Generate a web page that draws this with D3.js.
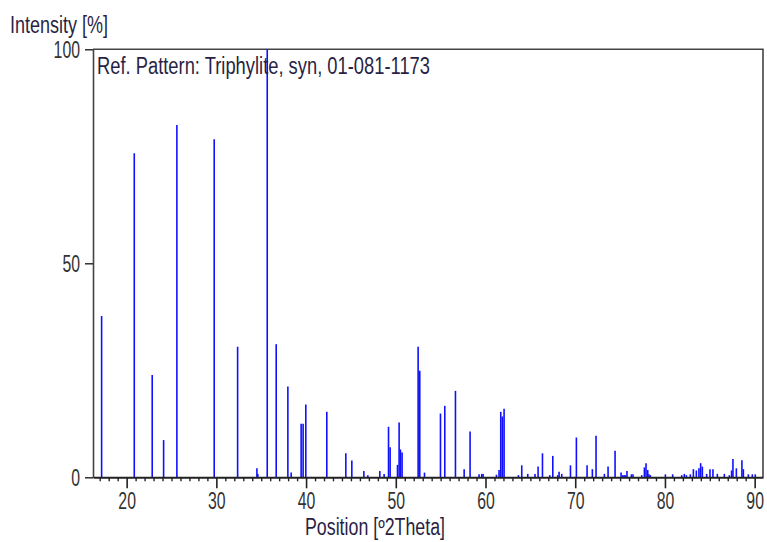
<!DOCTYPE html>
<html>
<head>
<meta charset="utf-8">
<script src="https://cdn.jsdelivr.net/npm/d3@7"></script>
<style>
  body { margin: 0; background: #fff; }
  text { font-family: "Liberation Sans", Arial, sans-serif; }
</style>
</head>
<body>
<svg id="chart" width="767" height="542"></svg>
<script>
// reference pattern peaks: position (2theta) and relative intensity (%)
var positions = [17.21, 20.85, 22.85, 24.12, 25.60, 29.76, 32.37, 34.52, 34.62, 35.67, 36.67,
  37.97, 38.34, 39.45, 39.67, 39.97, 42.31, 44.43, 45.10, 46.44, 46.88, 48.22, 48.70,
  49.19, 49.37, 50.19, 50.37, 50.52, 50.70, 52.49, 52.67, 53.20, 54.98, 55.46, 56.65,
  57.62, 58.28, 59.28, 59.58, 59.73, 61.22, 61.51, 61.70, 61.88, 62.07, 63.67, 64.04,
  64.71, 65.52, 65.86, 66.35, 67.16, 67.50, 68.05, 68.20, 68.50, 69.47, 70.13, 71.32,
  71.91, 72.32, 73.25, 73.66, 74.44, 75.11, 75.30, 75.45, 75.60, 75.77, 76.26, 76.44,
  77.41, 77.71, 77.89, 78.08, 78.22, 78.38, 80.05, 80.86, 81.87, 82.16, 82.39, 82.83,
  83.17, 83.50, 83.79, 83.98, 84.17, 84.65, 85.02, 85.35, 85.84, 86.62, 87.18, 87.43,
  87.58, 87.96, 88.58, 88.74, 89.30, 89.74, 90.07];
var intensities = [37.7, 75.7, 23.9, 8.7, 82.3, 79.0, 30.5, 2.1, 0.8, 100, 31.1,
  21.2, 1.1, 12.5, 12.5, 17.0, 15.3, 5.6, 3.9, 1.5, 0.5, 1.5, 0.8,
  11.8, 7.0, 2.9, 12.8, 6.5, 5.8, 30.5, 24.9, 1.1, 14.9, 16.7, 20.2,
  1.9, 10.7, 0.7, 0.8, 0.8, 0.6, 1.7, 15.3, 14.2, 16.0, 0.5, 2.8,
  0.8, 0.8, 2.5, 5.6, 0.5, 5.0, 0.5, 1.3, 0.8, 2.8, 9.3, 2.8,
  1.9, 9.7, 0.8, 2.5, 6.2, 1.1, 0.5, 0.5, 0.5, 1.5, 0.7, 0.7,
  0.5, 2.3, 3.3, 1.7, 0.7, 0.5, 0.7, 0.7, 0.5, 0.8, 0.5, 0.7,
  1.9, 1.6, 2.1, 3.3, 2.5, 0.8, 1.9, 1.9, 0.8, 0.8, 0.5, 1.6,
  4.3, 2.1, 4.0, 1.9, 0.7, 0.7, 0.7];
var xMajorTicks = [20, 30, 40, 50, 60, 70, 80, 90];
var yTicks = [0, 50, 100];
var patternLabel = "Ref. Pattern: Triphylite, syn, 01-081-1173";

var svg = d3.select("#chart");
// plot box (renamed from top/left: window.top is read-only)
var mLeft = 93, mRight = 763, mTop = 49.3, mBottom = 477.3;
var fontSize = 23;

var x = d3.scaleLinear().domain([16.25, 90.93]).range([mLeft, mRight]);
var y = d3.scaleLinear().domain([0, 100]).range([mBottom, mTop]);

var peaks = positions.map(function(p, i) { return {pos: p, val: intensities[i]}; });

// the reference font is tall and narrow, squeeze text to its width
function squeeze(sel, w) {
  sel.attr("textLength", w).attr("lengthAdjust", "spacingAndGlyphs");
}

// frame (top and right sides)
svg.append("path")
  .attr("d", "M" + mLeft + "," + mTop + "H" + mRight + "V" + mBottom)
  .attr("fill", "none").attr("stroke", "#444").attr("stroke-width", 1.6);

// peaks
svg.append("g").selectAll("line").data(peaks).enter().append("line")
  .attr("x1", function(d) { return x(d.pos); })
  .attr("x2", function(d) { return x(d.pos); })
  .attr("y1", y(0))
  .attr("y2", function(d) { return y(d.val); })
  .attr("stroke", "#1010ff").attr("stroke-width", 1.6);

// y axis
var yAxis = svg.append("g").attr("transform", "translate(" + mLeft + ",0)")
  .call(d3.axisLeft(y).tickValues(yTicks).tickSize(8).tickPadding(5).tickSizeOuter(0));
yAxis.select(".domain").attr("stroke", "#444").attr("stroke-width", 1.6);
yAxis.selectAll(".tick line").attr("stroke", "#222").attr("stroke-width", 1.4);
yAxis.selectAll("text").attr("font-size", fontSize).attr("fill", "#333").attr("dy", "0.36em")
  .each(function(d) { squeeze(d3.select(this), String(d).length * 8.8); });

// x axis minor ticks
var minor = d3.range(17, 91).filter(function(v) { return v % 10 !== 0; });
var xMinor = svg.append("g").attr("transform", "translate(0," + mBottom + ")")
  .call(d3.axisBottom(x).tickValues(minor).tickSize(4).tickFormat("").tickSizeOuter(0));
xMinor.select(".domain").remove();
xMinor.selectAll(".tick line").attr("stroke", "#222").attr("stroke-width", 1.4);

// x axis major
var xAxis = svg.append("g").attr("transform", "translate(0," + mBottom + ")")
  .call(d3.axisBottom(x).tickValues(xMajorTicks).tickSize(11).tickPadding(4).tickSizeOuter(0));
xAxis.select(".domain").attr("stroke", "#222").attr("stroke-width", 2);
xAxis.selectAll(".tick line").attr("stroke", "#222").attr("stroke-width", 1.6);
xAxis.selectAll("text").attr("font-size", fontSize).attr("fill", "#333")
  .each(function(d) { squeeze(d3.select(this), String(d).length * 8.8); });

// titles
svg.append("text").attr("x", 10).attr("y", 33).attr("font-size", fontSize).attr("fill", "#2a1f44")
  .text("Intensity [%]").call(squeeze, 98);
svg.append("text").attr("x", 305).attr("y", 535)
  .attr("font-size", fontSize).attr("fill", "#2a1f44").text("Position [º2Theta]").call(squeeze, 140);
svg.append("text").attr("x", 97).attr("y", 74).attr("font-size", fontSize).attr("fill", "#2a1f44")
  .text(patternLabel).call(squeeze, 333);
</script>
</body>
</html>
